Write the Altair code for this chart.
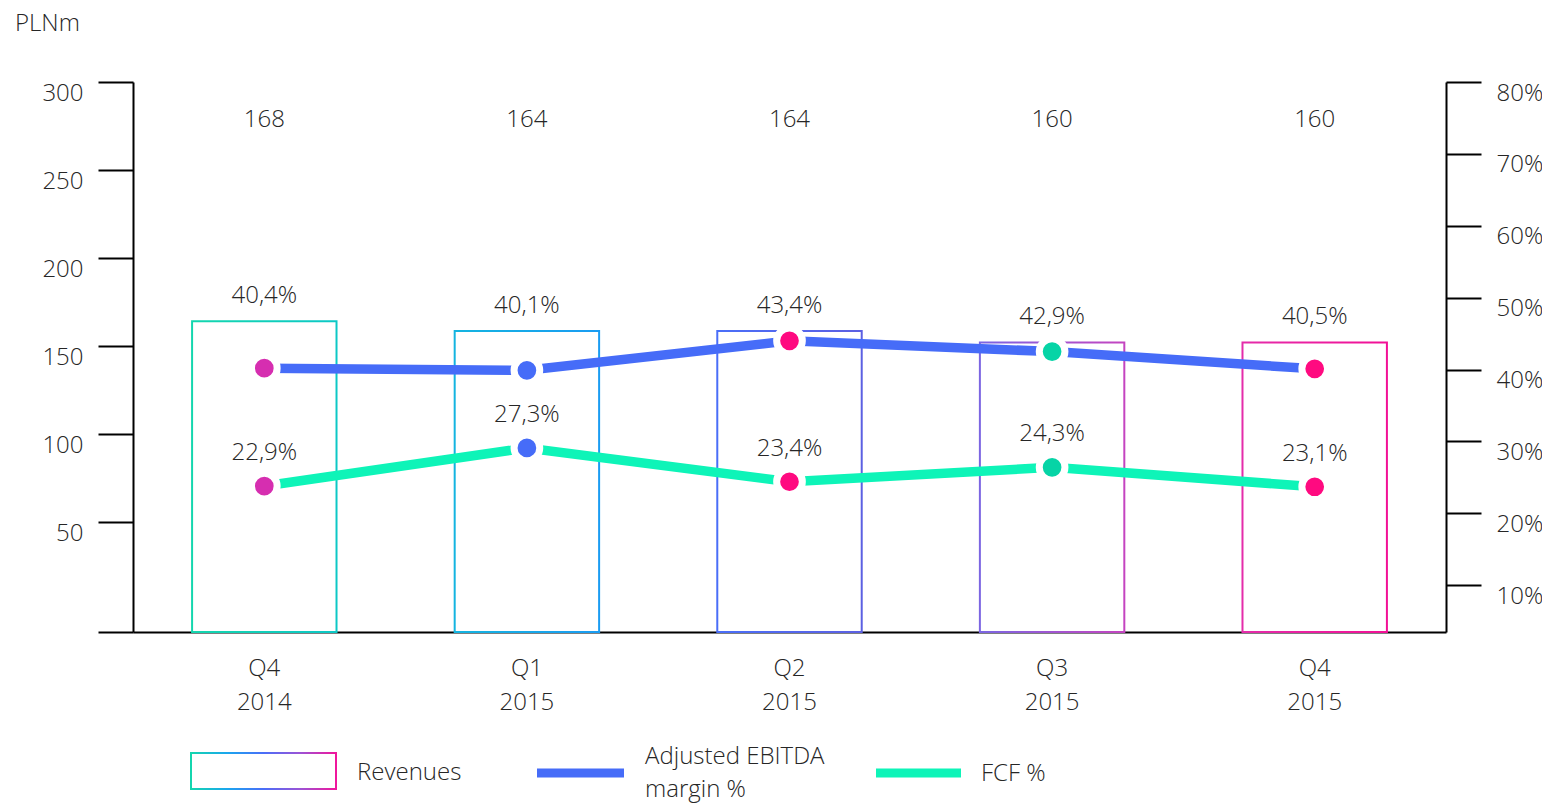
import altair as alt
import pandas as pd

# ---- data ----
categories = ["Q4 2014", "Q1 2015", "Q2 2015", "Q3 2015", "Q4 2015"]
revenues = [164, 158.5, 158.5, 152, 152]          # bar heights read against the left axis
revenue_labels = ["168", "164", "164", "160", "160"]
ebitda_margin = [40.2, 39.9, 44.0, 42.5, 40.1]   # point positions read against the right axis
ebitda_labels = ["40,4%", "40,1%", "43,4%", "42,9%", "40,5%"]
fcf = [23.8, 29.1, 24.4, 26.4, 23.7]
fcf_labels = ["22,9%", "27,3%", "23,4%", "24,3%", "23,1%"]
point_colors = ["#d62eb0", "#466cf8", "#ff0a80", "#06d4a6", "#ff0a80"]
bar_strokes = [("#14d6ae", "#0cc8c6"), ("#14b4e0", "#1a9cf2"), ("#4a6ef8", "#5c60e2"),
               ("#7c66e2", "#c444c0"), ("#e42caa", "#f21096")]
left_min = -12.5
left_ticks = [left_min, 50, 100, 150, 200, 250, 300]
right_ticks = [10, 20, 30, 40, 50, 60, 70, 80]

df = pd.DataFrame({
    "cat": categories,
    "rev": revenues,
    "rev_label": revenue_labels,
    "ebitda": ebitda_margin,
    "ebitda_label": ebitda_labels,
    "fcf": fcf,
    "fcf_label": fcf_labels,
})

FONT = "Open Sans"
TXT = "#262626"
BLUE = "#466cf8"
AQUA = "#0ef4b8"

X = alt.X("cat:N", sort=categories,
          scale=alt.Scale(paddingInner=0.45, paddingOuter=0.225),
          axis=alt.Axis(title=None, labelExpr="split(datum.label, ' ')", ticks=False, tickSize=0,
                        domainColor="black", domainWidth=2, labelAngle=0, labelFontSize=24,
                        labelLineHeight=34, labelPadding=24, labelColor=TXT, labelFont=FONT,
                        labelFontWeight=300, labelBaseline="top", grid=False))

YL = alt.Y("rev:Q", scale=alt.Scale(domain=[left_min, 300], nice=False, zero=False),
           axis=alt.Axis(title=None, values=left_ticks, tickSize=35, tickWidth=2, tickColor="black",
                         domainColor="black", domainWidth=2, labelPadding=15, labelOffset=11,
                         labelExpr="datum.value < 1 ? '' : datum.label", labelFontSize=24,
                         labelColor=TXT, labelFont=FONT, labelFontWeight=300, grid=False))

def right_y(field):
    return alt.Y(field, scale=alt.Scale(domain=[3.5, 80], nice=False, zero=False),
                 axis=alt.Axis(title=None, orient="right", values=right_ticks, tickSize=35, tickWidth=2,
                               tickColor="black", domainColor="black", domainWidth=2, labelPadding=15,
                               labelOffset=11, labelExpr="datum.value + '%'", labelFontSize=24,
                               labelColor=TXT, labelFont=FONT, labelFontWeight=300, grid=False))

base = alt.Chart(df)

def grad(stops):
    n = len(stops) - 1
    return alt.LinearGradient(gradient="linear", x1=0, x2=1, y1=0, y2=0,
                              stops=[alt.GradientStop(color=c, offset=i / n) for i, c in enumerate(stops)])

bar_layers = []
for cat, (c1, c2) in zip(categories, bar_strokes):
    bar_layers.append(
        base.transform_filter(alt.datum.cat == cat)
        .mark_bar(fill="transparent", stroke=grad([c1, c2]), strokeWidth=2)
        .encode(x=X, y=YL, y2=alt.datum(left_min))
    )

txt_kw = dict(font=FONT, fontSize=24, fontWeight=300, color=TXT, baseline="middle")

rev_text = base.mark_text(**txt_kw).encode(x=X, y=alt.value(38), text="rev_label:N")
ebitda_text = base.mark_text(dy=-25, **txt_kw).encode(x=X, y=YL, text="ebitda_label:N")

left = alt.layer(*bar_layers, rev_text, ebitda_text)

FILL = alt.Fill("cat:N", scale=alt.Scale(domain=categories, range=point_colors), legend=None)

e_line = base.mark_line(color=BLUE, strokeWidth=9.5).encode(x=X, y=right_y("ebitda:Q"))
f_line = base.mark_line(color=AQUA, strokeWidth=9.5).encode(x=X, y=right_y("fcf:Q"))
e_pts = base.mark_circle(size=660, opacity=1, stroke="white", strokeWidth=7).encode(
    x=X, y=right_y("ebitda:Q"), fill=FILL)
f_pts = base.mark_circle(size=660, opacity=1, stroke="white", strokeWidth=7).encode(
    x=X, y=right_y("fcf:Q"), fill=FILL)
f_text = base.mark_text(dy=-33, **txt_kw).encode(x=X, y=right_y("fcf:Q"), text="fcf_label:N")

right = alt.layer(e_line, f_line, e_pts, f_pts, f_text)

# ---- custom legend & unit label ----
one = alt.Chart(pd.DataFrame({"k": [0]}))
legend_grad = grad(["#14d6ae", "#1aa6ee", "#4a6ef8", "#9a54d6", "#f0169c"])
leg_box = one.mark_rect(fill="transparent", stroke=legend_grad, strokeWidth=2).encode(
    x=alt.value(58), x2=alt.value(203), y=alt.value(671), y2=alt.value(707))
leg_rev = one.mark_text(align="left", **txt_kw).encode(
    x=alt.value(224), y=alt.value(691), text=alt.value("Revenues"))
leg_blue = one.mark_rule(color=BLUE, strokeWidth=9).encode(
    x=alt.value(404), x2=alt.value(491), y=alt.value(691))
leg_e1 = one.mark_text(align="left", **txt_kw).encode(
    x=alt.value(512), y=alt.value(675), text=alt.value("Adjusted EBITDA"))
leg_e2 = one.mark_text(align="left", **txt_kw).encode(
    x=alt.value(512), y=alt.value(708), text=alt.value("margin %"))
leg_aqua = one.mark_rule(color=AQUA, strokeWidth=9).encode(
    x=alt.value(743), x2=alt.value(828), y=alt.value(691))
leg_fcf = one.mark_text(align="left", **txt_kw).encode(
    x=alt.value(848), y=alt.value(692), text=alt.value("FCF %"))
unit = one.mark_text(align="left", **txt_kw).encode(
    x=alt.value(-118), y=alt.value(-58), text=alt.value("PLNm"))

legend = alt.layer(leg_box, leg_rev, leg_blue, leg_e1, leg_e2, leg_aqua, leg_fcf, unit)

chart = (
    alt.layer(left, right, legend)
    .resolve_scale(y="independent")
    .properties(width=1313, height=550,
                autosize=alt.AutoSizeParams(type="none"),
                padding={"left": 125, "top": 74, "right": 96, "bottom": 190})
    .configure(background="white")
    .configure_view(stroke=None)
)

chart.save("out.html", embed_options={"renderer": "svg", "actions": False})
